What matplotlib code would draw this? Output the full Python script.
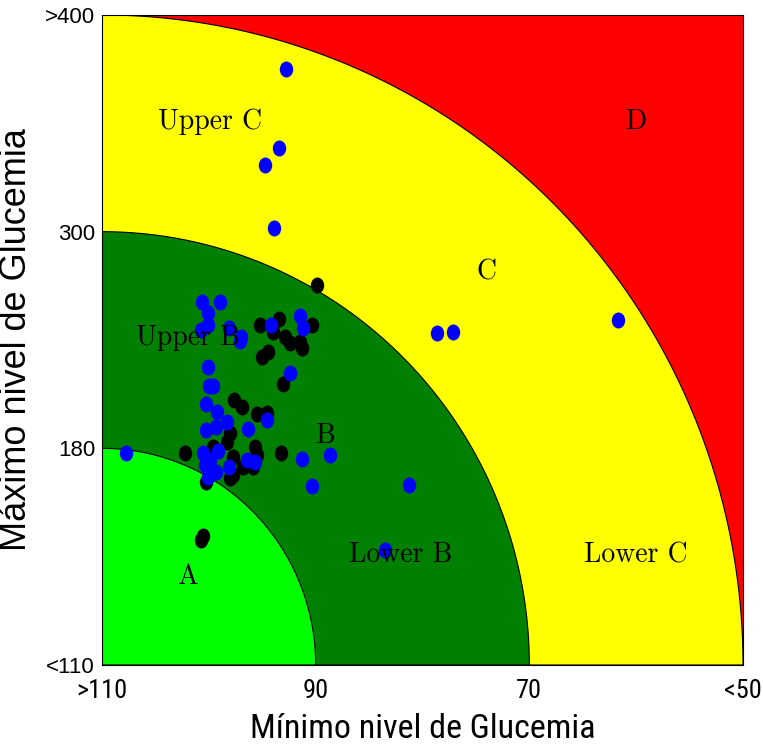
import numpy as np
import matplotlib
matplotlib.use("Agg")
import matplotlib.pyplot as plt
from matplotlib.path import Path
from matplotlib.transforms import Affine2D

# ---- data (glucose values, mg/dL) ----
blue_min = [92.8, 93.4, 94.7, 93.9, 78.6, 77.1, 61.7, 81.3, 83.5, 107.8,
            100.6, 99.0, 100.1, 100.1, 100.7, 98.1, 97.0, 97.1, 94.2, 91.5,
            91.2, 100.1, 92.4, 100.0, 99.6, 100.3, 99.2, 98.3, 99.3, 100.3,
            96.3, 94.6, 100.5, 99.1, 99.9, 100.4, 99.3, 100.1, 98.1, 96.4,
            95.7, 91.3, 90.3, 88.7]
blue_max = [375.0, 338.6, 330.7, 301.7, 243.8, 244.4, 251.0, 168.1, 147.1, 178.5,
            261.0, 261.0, 254.9, 248.3, 245.5, 246.6, 241.6, 239.4, 248.3, 253.3,
            246.6, 225.0, 221.7, 214.5, 214.5, 204.5, 200.1, 194.6, 191.8, 190.1,
            190.7, 195.7, 178.5, 179.1, 176.2, 174.6, 172.3, 170.7, 174.0, 176.2,
            175.6, 176.5, 167.8, 177.8]

black_min = [89.9, 95.2, 93.4, 94.0, 92.9, 92.4, 91.5, 91.3, 90.3, 94.5,
             95.0, 93.1, 97.6, 96.9, 95.5, 94.6, 98.0, 98.3, 99.6, 102.2,
             95.7, 95.5, 97.7, 96.8, 97.7, 98.0, 100.3, 93.2, 95.9, 100.5,
             100.7]
black_max = [270.5, 248.3, 251.6, 244.4, 241.6, 238.3, 238.9, 235.5, 248.3, 233.3,
             230.6, 215.6, 206.7, 202.9, 199.0, 199.5, 188.5, 183.5, 180.7, 178.5,
             180.7, 177.8, 177.2, 174.0, 171.4, 170.4, 169.1, 178.5, 174.0, 151.7,
             150.4]

x_ticks = [110, 90, 70, 50]
x_tick_labels = [">110", "90", "70", "<50"]
y_ticks = [110, 180, 300, 400]
y_tick_labels = ["<110", "180", "300", ">400"]

zone_radii = [3, 2, 1]
zone_colors = ["#FFFF00", "#008000", "#00FF00"]
outer_color = "#FF0000"

zone_labels = ["Upper C", "D", "C", "Upper B", "B", "Lower B", "Lower C", "A"]
zone_label_u = [0.505, 2.50, 1.80, 0.40, 1.05, 1.40, 2.50, 0.40]
zone_label_v = [2.506, 2.506, 1.814, 1.509, 1.057, 0.508, 0.508, 0.406]

# ---- scales ----
def y_fwd(g):
    return np.interp(g, y_ticks, [0, 1, 2, 3])

def y_inv(v):
    return np.interp(v, [0, 1, 2, 3], y_ticks)

def u_to_min(u):
    return 110 - 20 * np.asarray(u)

narrow = "Roboto Condensed"

fig = plt.figure(figsize=(7.63, 7.5), dpi=100)
ax = fig.add_axes([102 / 763, 85 / 750, 641 / 763, 650 / 750])
ax.set_yscale("function", functions=(y_fwd, y_inv))
ax.set_xlim(110, 50)
ax.set_ylim(110, 400)
ax.set_facecolor(outer_color)

theta = np.linspace(0, np.pi / 2, 400)
for r, c in zip(zone_radii, zone_colors):
    u = np.concatenate([[0], r * np.cos(theta), [0]])
    v = np.concatenate([[0], r * np.sin(theta), [0]])
    ax.fill(u_to_min(u), y_inv(v), facecolor=c, edgecolor="black", linewidth=0.8, zorder=1)

ell = Path.unit_circle().transformed(Affine2D().scale(0.84, 1.0))
ax.plot(black_min, black_max, linestyle="none", marker=ell, markersize=11.5,
        color="black", markeredgewidth=0, zorder=3)
ax.plot(blue_min, blue_max, linestyle="none", marker=ell, markersize=11.5,
        color="#0000FF", markeredgewidth=0, zorder=4)

for t, uu, vv in zip(zone_labels, zone_label_u, zone_label_v):
    ax.text(uu / 3, vv / 3, t, transform=ax.transAxes, ha="center", va="center",
            fontsize=20, family="cmr10", color="black", zorder=5)

ax.set_xticks(x_ticks)
ax.set_xticklabels(x_tick_labels, family=narrow, fontsize=19)
ax.set_yticks(y_ticks)
ax.set_yticklabels(y_tick_labels, family="Liberation Sans", fontsize=16)
ax.minorticks_off()
ax.tick_params(axis="both", length=0)
ax.tick_params(axis="x", pad=10)
ax.tick_params(axis="y", pad=5)

ax.set_xlabel("Mínimo nivel de Glucemia", family=narrow, fontsize=24.5, labelpad=7)
ax.set_ylabel("Máximo nivel de Glucemia", family="Liberation Sans", fontsize=26, labelpad=8)

for s in ax.spines.values():
    s.set_color("black")
    s.set_linewidth(0.8)

fig.savefig("out.png", dpi=100)
